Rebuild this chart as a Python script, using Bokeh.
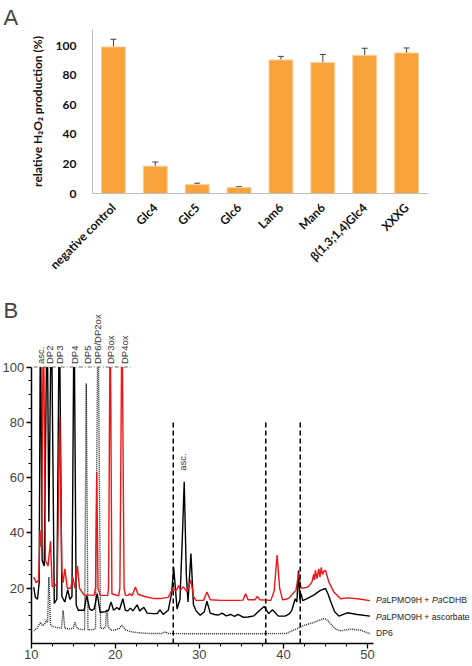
import math
from bokeh.plotting import figure
from bokeh.models import (FactorRange, Range1d, Whisker, ColumnDataSource, TeeHead,
                          SingleIntervalTicker, FixedTicker, Label, LinearAxis, Title)
from bokeh.embed import file_html
from bokeh.resources import INLINE

# ---------------- Panel A data ----------------
categories = ["negative control", "Glc4", "Glc5", "Glc6", "Lam6", "Man6",
              "β(1,3;1,4)Glc4", "XXXG"]
h2o2_values = [99.2, 18.5, 6.0, 4.0, 90.4, 88.6, 93.5, 95.1]
h2o2_errors = [5.2, 2.8, 1.0, 0.6, 2.4, 5.5, 4.8, 3.4]
a_yticks = [0, 20, 40, 60, 80, 100]

# ---------------- Panel B data ----------------
red_t = [10.3, 10.6, 10.9, 11.05, 11.15, 11.25, 11.45, 11.7, 12.0, 12.3, 12.5, 12.9, 13.1,
         13.4, 13.65, 13.8, 14.0, 14.3, 14.7, 14.95, 15.2, 15.5, 15.75, 15.95, 16.3, 17.5,
         17.65, 17.8, 17.95, 18.2, 19.1, 19.2, 19.4, 19.6, 20.4, 20.55, 20.8, 21.05, 21.2,
         21.5, 21.7, 22.0, 22.4, 22.7, 23.5, 24.5, 25.5, 26.3, 26.6, 26.9, 27.2, 27.55, 27.7,
         28.1, 28.55, 29.0, 29.3, 29.6, 30.5, 30.9, 31.3, 32.5, 33.5, 34.5, 35.2, 35.5, 35.8,
         36.6, 36.9, 37.2, 38.5, 38.9, 39.25, 39.55, 39.9, 40.3, 40.7, 41.1, 41.5, 41.8, 42.1,
         42.8, 43.1, 43.4, 43.6, 43.7, 43.8, 44.0, 44.2, 44.35, 44.5, 44.65, 44.8, 45.0, 45.4,
         46.0, 46.8, 47.6, 48.8, 50.3]
red_y = [24, 22, 23, 41, 35, 38, 400, 30, 28, 37, 20.5, 21, 22,
         82, 26, 22, 27, 20, 20, 24, 20, 28, 20, 19, 17.5, 17.5,
         20, 62, 20, 17.5, 17.3, 20, 500, 18, 17.2, 20, 300, 20, 17.5,
         17.3, 18, 17.3, 20.4, 17.8, 17, 16.3, 16.3, 16.7, 18.6, 19.9, 19, 21, 19.3,
         20.5, 18.6, 23, 17, 15.6, 15.6, 18.6, 15.8, 15.6, 15.6, 15.6, 15.7, 18, 15.8,
         15.8, 17, 15.8, 15.6, 19, 32, 20, 15.8, 16, 16.5, 18, 19.3, 25.4, 20,
         20.3, 21, 22.3, 25, 23, 26.5, 23.5, 27, 24, 27.5, 25, 26, 26.5, 22.3,
         18.6, 16.2, 16.5, 16.2, 15.5]

black_t = [10.3, 10.5, 10.75, 10.95, 11.1, 11.3, 11.55, 11.9, 12.1, 12.4, 12.75, 13.05,
           13.35, 13.65, 14.0, 14.35, 14.6, 14.85, 15.1, 15.35, 15.6, 16.3, 16.6, 16.95,
           17.2, 17.5, 17.85, 18.2, 18.8, 19.2, 19.5, 19.8, 20.2, 20.5, 20.9, 21.2, 21.5,
           21.8, 22.1, 22.6, 22.9, 23.4, 23.8, 24.5, 25.0, 25.3, 25.7, 26.3, 26.7, 26.95,
           27.35, 27.7, 28.0, 28.2, 28.45, 28.65, 29.0, 29.3, 29.6, 30.1, 30.6, 30.9, 31.3,
           31.8, 32.3, 32.7, 33.2, 33.7, 34.2, 34.6, 35.2, 35.8, 36.5, 37.0, 37.7, 38.25,
           38.7, 39.4, 40.2, 40.7, 41.0, 41.4, 41.6, 41.8, 41.95, 42.1, 42.3, 42.8, 43.6,
           44.4, 45.0, 45.3, 45.6, 46.1, 46.6, 47.6, 48.8, 50.3]
black_y = [20.4, 16.7, 16, 22, 400, 30, 28, 400, 44, 400, 14.5, 16,
           300, 17, 15, 19.5, 16, 17, 300, 14, 12, 12, 17.4, 12.5,
           12, 12.5, 18, 11.3, 11.5, 12, 15, 12, 13, 12.2, 16.2, 12, 11.8,
           12.8, 11.8, 14, 11.8, 13.1, 11, 10.8, 10.8, 12.2, 10.5, 12, 18, 27.6,
           12.5, 16, 40, 58.5, 25, 15, 32.5, 14, 11.9, 10.2, 11.5, 15.3, 11,
           10.5, 10.3, 11, 10, 10.5, 9.8, 10.5, 9.5, 9.6, 10, 11.5, 13.4, 10.8,
           12.2, 9.9, 9.9, 10.7, 12, 16.2, 15, 26.4, 16, 18, 15.5, 16.2, 17.5,
           19.2, 19.9, 18, 15.4, 11.5, 9.9, 11.1, 10.5, 9.9]

dp6_t = [10.3, 10.7, 11.1, 11.3, 11.6, 11.8, 11.95, 12.1, 12.3, 12.5, 13.0, 13.6, 13.8,
         14.0, 14.6, 15.0, 15.2, 15.45, 16.0, 16.35, 16.55, 16.75, 17.3, 17.65, 17.95,
         18.25, 18.7, 18.85, 18.95, 19.05, 19.15, 19.5, 20.0, 20.5, 20.8, 21.2, 21.8, 22.5,
         23.4, 24.5, 25.5, 26.0, 26.3, 30.0, 35.0, 40.3, 41.5, 42.3, 43.6, 44.8, 45.1, 45.4,
         46.2, 46.8, 48.0, 49.2, 50.3]
dp6_y = [4.5, 5.5, 7.7, 6.5, 7, 8.5, 7.5, 24, 7, 6.2, 5.8, 5.5, 11.9,
         5.5, 5.3, 5.5, 7.7, 5.5, 5, 5, 94, 5, 4.9, 5.5, 400,
         5.5, 5.4, 6, 12, 12, 6, 4.8, 4.9, 5.5, 6.6, 5, 4.3, 4,
         3.7, 3.6, 3.6, 4.2, 3.6, 3.5, 3.5, 3.6, 5.2, 6.4, 7.6, 9.0, 8.8, 7.8,
         5.2, 4.6, 5.2, 4.8, 3.5]

peak_labels = ["asc.", "DP2", "DP3", "DP4", "DP5", "DP6/DP2ox", "DP3ox", "DP4ox"]
peak_label_t = [11.1, 12.2, 13.4, 15.1, 16.7, 17.85, 19.4, 21.1]
asc2_label = "asc."
asc2_t = 28.0
asc2_y = 62.5
marker_lines_t = [26.9, 37.9, 42.0]
marker_lines_top = 80
clip_line_t = [10.3, 21.8]
clip_line_y = [100, 100]

series_names = [[("Pa", True), ("LPMO9H + ", False), ("Pa", True), ("CDHB", False)],
                [("Pa", True), ("LPMO9H + ascorbate", False)],
                [("DP6", False)]]
series_label_y = [15.9, 9.5, 3.7]
series_label_t = 51.0

# ---------------- Panel A ----------------
BAR_FILL = "#F8A23C"
AX_FONT = "Lato"

pa = figure(width=472, height=296, x_range=FactorRange(*categories),
            y_range=Range1d(0, 111), output_backend="svg", toolbar_location=None,
            min_border_left=92, min_border_right=45, min_border_top=29,
            min_border_bottom=103)
pa.title = Title(text="A", align="left", offset=-89, text_font="Liberation Sans",
                 text_font_size="22px", text_font_style="normal", standoff=0,
                 text_line_height=1.0)
pa.vbar(x=categories, top=h2o2_values, width=0.57, fill_color=BAR_FILL,
        line_color="#FBCF99", line_width=1)
src = ColumnDataSource(dict(cat=categories,
                            upper=[v + e for v, e in zip(h2o2_values, h2o2_errors)],
                            lower=[v - e for v, e in zip(h2o2_values, h2o2_errors)]))
wc = "#404040"
pa.add_layout(Whisker(source=src, base="cat", upper="upper", lower="lower",
                      line_color=wc, line_width=1,
                      upper_head=TeeHead(size=6, line_color=wc, line_width=1),
                      lower_head=TeeHead(size=6, line_color=wc, line_width=1)))
pa.xgrid.grid_line_color = None
pa.ygrid.grid_line_color = None
pa.outline_line_color = None
pa.yaxis.ticker = FixedTicker(ticks=a_yticks)
for ax in (pa.xaxis, pa.yaxis):
    ax.axis_line_color = "#BFBFBF"
    ax.major_tick_line_color = None
    ax.minor_tick_line_color = None
    ax.major_label_text_font = AX_FONT
    ax.major_label_text_font_style = "bold"
    ax.major_label_text_font_size = "12px"
    ax.major_label_text_color = "#111111"
pa.yaxis.major_label_standoff = 10
pa.xaxis.major_label_standoff = 6
pa.xaxis.major_label_orientation = math.pi / 4
pa.yaxis.axis_label = "relative H₂O₂ production (%)"
pa.yaxis.axis_label_text_font = AX_FONT
pa.yaxis.axis_label_text_font_style = "bold"
pa.yaxis.axis_label_text_font_size = "12px"
pa.yaxis.axis_label_standoff = 8
pa.yaxis.axis_label_text_color = "#111111"

# ---------------- Panel B ----------------
TXT_FONT = "Liberation Sans"
XB = (6.35, 62.49)
YB = (-8.32, 125.5)
CAP = YB[1] - 2  # values beyond the top of the plot are drawn only up to here


def capped(vals):
    return [min(v, CAP) for v in vals]


pb = figure(width=472, height=370, x_range=Range1d(*XB), y_range=Range1d(*YB),
            output_backend="svg", toolbar_location=None,
            x_axis_location=None, y_axis_location=None,
            min_border_left=0, min_border_right=0, min_border_top=0,
            min_border_bottom=0)
pb.xgrid.grid_line_color = None
pb.ygrid.grid_line_color = None
pb.outline_line_color = None

pb.line(dp6_t, capped(dp6_y), line_color="#222222", line_width=1.4, line_dash="1 1")
pb.line(black_t, capped(black_y), line_color="black", line_width=1.4)
pb.line(red_t, capped(red_y), line_color="#F01515", line_width=1.4)
# mask: the chromatogram is cut off at 100
pb.quad(left=XB[0] - 5, right=XB[1] + 5, bottom=100, top=YB[1] + 60,
        fill_color="white", line_color=None)
pb.segment(x0=marker_lines_t, y0=[0] * len(marker_lines_t), x1=marker_lines_t,
           y1=[marker_lines_top] * len(marker_lines_t), line_color="black",
           line_width=1.5, line_dash="5 3")
pb.line(clip_line_t, clip_line_y, line_color="#666666", line_width=1, line_dash="4 2 1 2")

xax = LinearAxis(fixed_location=0, bounds=(10, 50.7),
                 ticker=SingleIntervalTicker(interval=10, num_minor_ticks=4))
yax = LinearAxis(fixed_location=10, bounds=(0, 100),
                 ticker=FixedTicker(ticks=[20, 40, 60, 80, 100],
                                    minor_ticks=[m for m in range(5, 100, 5) if m % 20]))
for ax in (xax, yax):
    ax.axis_line_width = 1.5
    ax.axis_line_color = "black"
    ax.major_tick_in = 0
    ax.major_tick_out = 5
    ax.minor_tick_in = 0
    ax.minor_tick_out = 3
    ax.major_tick_line_width = 1.3
    ax.minor_tick_line_width = 1
    ax.major_label_text_font = TXT_FONT
    ax.major_label_text_font_size = "13px"
    ax.major_label_standoff = 2
pb.add_layout(xax, "below")
pb.add_layout(yax, "left")

for txt, t in zip(peak_labels, peak_label_t):
    pb.add_layout(Label(x=t, y=100, y_offset=3, text=txt, angle=math.pi / 2,
                        text_align="left", text_baseline="middle",
                        text_font=TXT_FONT, text_font_size="9.5px", text_color="#333333"))
pb.add_layout(Label(x=asc2_t, y=asc2_y, text=asc2_label, angle=math.pi / 2,
                    text_align="left", text_baseline="middle",
                    text_font=TXT_FONT, text_font_size="9.5px", text_color="#333333"))

# Arial/Liberation Sans advance widths (em)
W = {"P": .667, "a": .556, "L": .556, "M": .833, "O": .778, "9": .556, "H": .722,
     " ": .278, "+": .584, "C": .722, "D": .722, "B": .667, "s": .5, "c": .5,
     "o": .556, "r": .333, "b": .556, "t": .278, "e": .556, "6": .556}
LBL_SIZE = 8.65
for pieces, yv in zip(series_names, series_label_y):
    off = 0.0
    for s, ital in pieces:
        pb.add_layout(Label(x=series_label_t, y=yv, x_offset=off, text=s,
                            text_align="left", text_baseline="middle",
                            text_font=TXT_FONT, text_font_size=f"{LBL_SIZE}px",
                            text_font_style="italic" if ital else "normal",
                            text_color="#222222"))
        off += sum(W.get(c, .556) for c in s) * LBL_SIZE

pb.add_layout(Label(x=XB[0], y=YB[1], x_offset=3, y_offset=-1, text="B",
                    text_baseline="top", text_align="left",
                    text_font=TXT_FONT, text_font_size="22px"))

open("out.html", "w").write(file_html([pa, pb], INLINE))
